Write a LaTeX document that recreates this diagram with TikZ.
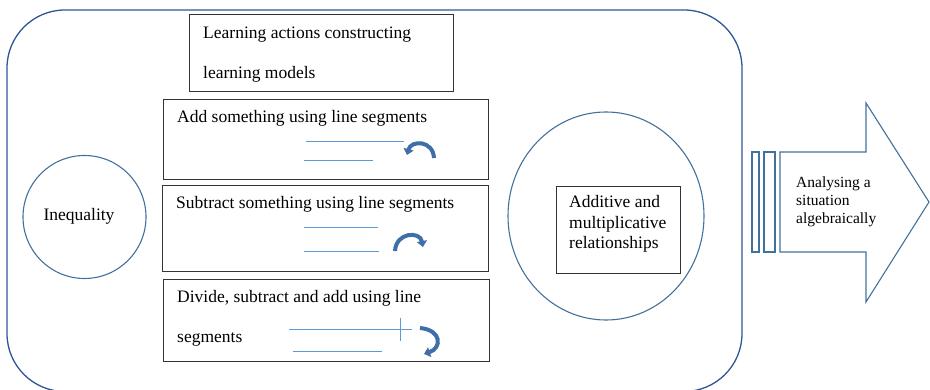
\documentclass[tikz,border=0pt]{standalone}
\usepackage{fontspec}
\setmainfont{Liberation Serif}
\usetikzlibrary{arrows.meta,shapes.geometric}
\definecolor{frameblue}{HTML}{2F5597}
\definecolor{circblue}{HTML}{41719C}
\definecolor{segblue}{HTML}{5B9BD5}
\definecolor{arrblue}{HTML}{3E6FA8}
\begin{document}
\begin{tikzpicture}[x=1pt,y=-1pt,
  box/.style={draw=black!80, line width=0.9pt, inner sep=0pt, outer sep=0pt},
  txt/.style={anchor=base west, inner sep=0pt, font=\fontsize{17.5}{20}\selectfont},
  smalltxt/.style={anchor=base west, inner sep=0pt, font=\fontsize{15.5}{18}\selectfont},
  seg/.style={draw=segblue, line width=0.9pt},
  carrow/.style={draw=arrblue, line width=4pt, -{Triangle[width=10pt,length=6pt]}},
  ring/.style={draw=circblue, line width=1.1pt, inner sep=0pt},
]
\useasboundingbox (0,0) rectangle (930,390);
% outer frame (bottom edge lies just below the picture)
\begin{scope}
\clip (0,0) rectangle (930,390);
\draw[frameblue, line width=1.3pt, rounded corners=58pt] (7,10) rectangle (742,391.5);
\end{scope}

% top box
\node[box, minimum width=264pt, minimum height=77pt] (top) at (321,52.5) {};
\node[txt] (t1) at (203,39) {Learning actions constructing};
\node[txt] (t2) at (203,79) {learning models};

% box 1
\node[box, minimum width=325pt, minimum height=80pt] (b1) at (325.5,139) {};
\node[txt] (b1t) at (177,123) {Add something using line segments};
\coordinate (b1a) at (306,141); \coordinate (b1b) at (404,141);
\coordinate (b1c) at (304,160); \coordinate (b1d) at (373,160);
\draw[seg] (b1a) -- (b1b);
\draw[seg] (b1c) -- (b1d);
\coordinate (b1s) at (434,158); \coordinate (b1e) at (407,155);
\draw[carrow] (b1s) .. controls (433,140) and (411,140) .. (b1e);

% box 2
\node[box, minimum width=326pt, minimum height=86pt] (b2) at (325,228) {};
\node[txt] (b2t) at (176,209) {Subtract something using line segments};
\coordinate (b2a) at (304,227); \coordinate (b2b) at (378,227);
\coordinate (b2c) at (304,251); \coordinate (b2d) at (379,251);
\draw[seg] (b2a) -- (b2b);
\draw[seg] (b2c) -- (b2d);
\coordinate (b2s) at (395,251); \coordinate (b2e) at (423,247);
\draw[carrow] (b2s) .. controls (396,232) and (420,231) .. (b2e);

% box 3
\node[box, minimum width=326pt, minimum height=82pt] (b3) at (326,320) {};
\node[txt] (b3t1) at (177,303) {Divide, subtract and add using line};
\node[txt] (b3t2) at (177,343) {segments};
\coordinate (b3a) at (289,329); \coordinate (b3b) at (412,329);
\coordinate (b3c) at (293,351); \coordinate (b3d) at (382,351);
\coordinate (b3v1) at (400,318); \coordinate (b3v2) at (400,341);
\draw[seg] (b3a) -- (b3b);
\draw[seg] (b3v1) -- (b3v2);
\draw[seg] (b3c) -- (b3d);
\coordinate (b3s) at (420,328); \coordinate (b3e) at (424,354);
\draw[carrow] (b3s) .. controls (442,330) and (442,348) .. (b3e);

% inequality circle
\node[ring, circle, minimum size=123pt] (ineq) at (84.5,217) {};
\node[inner sep=0pt, font=\fontsize{17.5}{20}\selectfont] (ineqt) at (79,216) {Inequality};

% ellipse with relationships
\node[ring, ellipse, minimum width=196pt, minimum height=208pt] (ell) at (606,216) {};
\node[box, minimum width=124pt, minimum height=87pt] (rel) at (618,229.5) {};
\node[txt] (r1) at (569,208) {Additive and};
\node[txt] (r2) at (569,229) {multiplicative};
\node[txt] (r3) at (569,249) {relationships};

% block arrow
\draw[circblue, line width=1.1pt] (752,152) rectangle (759,252);
\draw[circblue, line width=1.1pt] (764,152) rectangle (775,252);
\draw[circblue, line width=1.1pt, line join=miter] (780,152) -- (866,152) -- (866,103) -- (929,202) -- (866,302) -- (866,252) -- (780,252) -- cycle;
\node[smalltxt] (a1) at (796,188) {Analysing a};
\node[smalltxt] (a2) at (796,206) {situation};
\node[smalltxt] (a3) at (796,224) {algebraically};
\end{tikzpicture}
\end{document}
